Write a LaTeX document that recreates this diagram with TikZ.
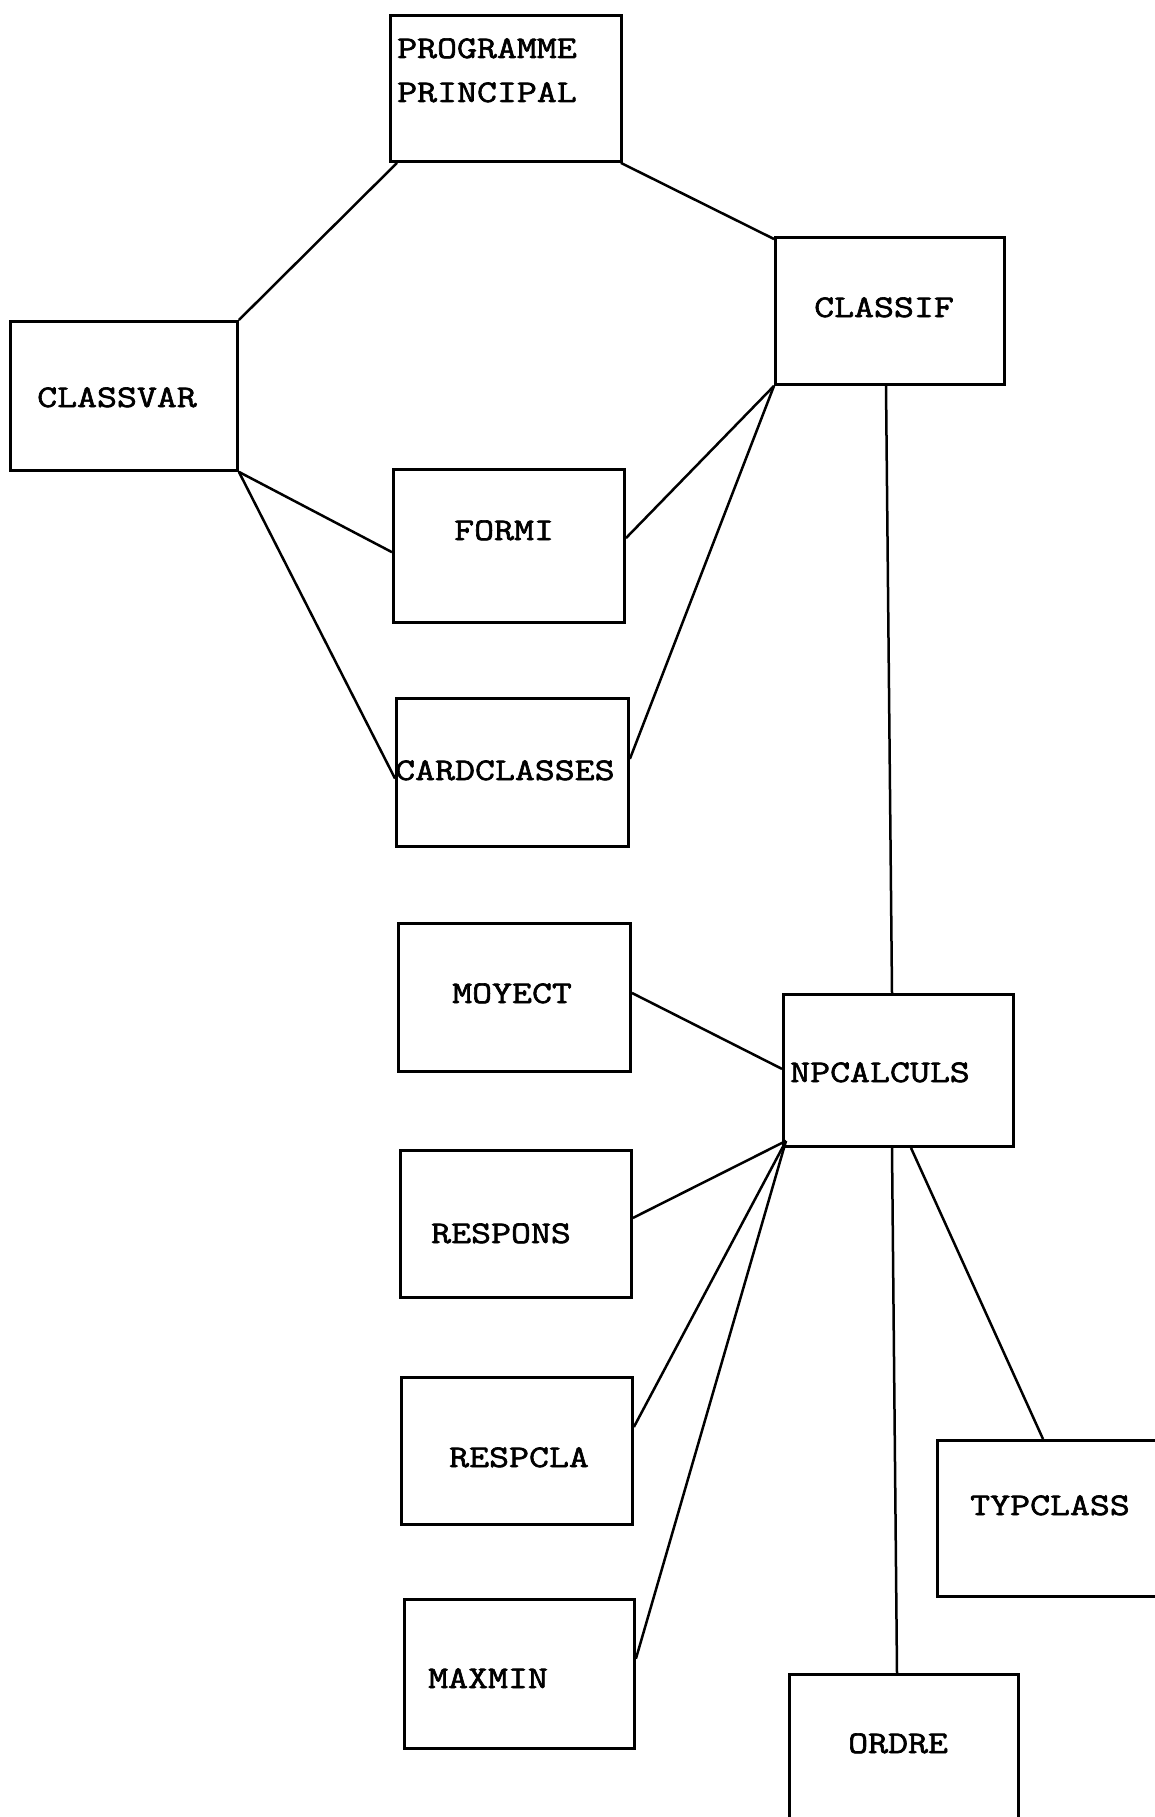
\documentclass[tikz,border=0pt]{standalone}
\usepackage{fontspec}
\setmonofont[FakeStretch=1.23,FakeBold=2]{Latin Modern Mono}
\usetikzlibrary{calc}
\begin{document}
\begin{tikzpicture}[x=1pt,y=-1pt,
  box/.style={draw, line width=2.9pt, anchor=north west, inner sep=0pt},
  lbl/.style={anchor=base west, inner sep=0pt, font=\ttfamily\fontsize{31.5}{31.5}\selectfont},
  link/.style={line width=2.5pt}]
\useasboundingbox (0,0) rectangle (1155,1817);
\clip (0,0) rectangle (1155,1817);
% boxes
\node[box, minimum width=231pt, minimum height=146pt] (prog) at (389,14) {};
\node[box, minimum width=229pt, minimum height=147pt] (classif) at (774,236) {};
\node[box, minimum width=227pt, minimum height=149pt] (classvar) at (9,320) {};
\node[box, minimum width=231pt, minimum height=153pt] (formi) at (392,468) {};
\node[box, minimum width=232pt, minimum height=148pt] (card) at (395,697) {};
\node[box, minimum width=232pt, minimum height=148pt] (moyect) at (397,922) {};
\node[box, minimum width=230pt, minimum height=152pt] (npcalc) at (782,993) {};
\node[box, minimum width=231pt, minimum height=147pt] (respons) at (399,1149) {};
\node[box, minimum width=231pt, minimum height=147pt] (respcla) at (400,1376) {};
\node[box, minimum width=240pt, minimum height=156pt] (typclass) at (936,1439) {};
\node[box, minimum width=230pt, minimum height=149pt] (maxmin) at (403,1598) {};
\node[box, minimum width=229pt, minimum height=170pt] (ordre) at (788,1673) {};
% labels
\node[lbl] (tprog1) at (397,58) {PROGRAMME};
\node[lbl] (tprog2) at (397,102) {PRINCIPAL};
\node[lbl] (tclassif) at (814,317) {CLASSIF};
\node[lbl] (tclassvar) at (37,407) {CLASSVAR};
\node[lbl] (tformi) at (454,540) {FORMI};
\node[lbl] (tcard) at (395,780) {CARDCLASSES};
\node[lbl] (tmoyect) at (452,1003) {MOYECT};
\node[lbl] (tnpcalc) at (790,1082) {NPCALCULS};
\node[lbl] (trespons) at (431,1243) {RESPONS};
\node[lbl] (trespcla) at (449,1467) {RESPCLA};
\node[lbl] (ttypclass) at (970,1515) {TYPCLASS};
\node[lbl] (tmaxmin) at (428,1688) {MAXMIN};
\node[lbl] (tordre) at (848,1753) {ORDRE};
% connectors
\draw[link] ($(prog.south west)+(8,0)$) -- (classvar.north east);
\draw[link] ($(prog.south east)+(-2,0)$) -- ($(classif.north west)+(0,3)$);
\draw[link] (classvar.south east) -- ($(formi.north west)!0.54!(formi.south west)$);
\draw[link] (classvar.south east) -- ($(card.north west)!0.54!(card.south west)$);
\draw[link] (classif.south west) -- ($(formi.north east)!0.45!(formi.south east)$);
\draw[link] (classif.south west) -- ($(card.north east)!0.41!(card.south east)$);
\draw[link] ($(classif.south west)+(112,0)$) -- ($(npcalc.north west)+(110,0)$);
\draw[link] ($(moyect.north east)!0.47!(moyect.south east)$) -- ($(npcalc.north west)!0.49!(npcalc.south west)$);
\coordinate (hub) at ($(npcalc.south west)+(4,-7)$);
\draw[link] (hub) -- ($(respons.north east)!0.46!(respons.south east)$);
\draw[link] (hub) -- ($(respcla.north east)!0.34!(respcla.south east)$);
\draw[link] (hub) -- ($(maxmin.north east)!0.40!(maxmin.south east)$);
\draw[link] ($(npcalc.south west)+(110,0)$) -- ($(ordre.north west)+(109,0)$);
\draw[link] ($(npcalc.south west)+(129,0)$) -- ($(typclass.north west)+(107,0)$);
\end{tikzpicture}
\end{document}
